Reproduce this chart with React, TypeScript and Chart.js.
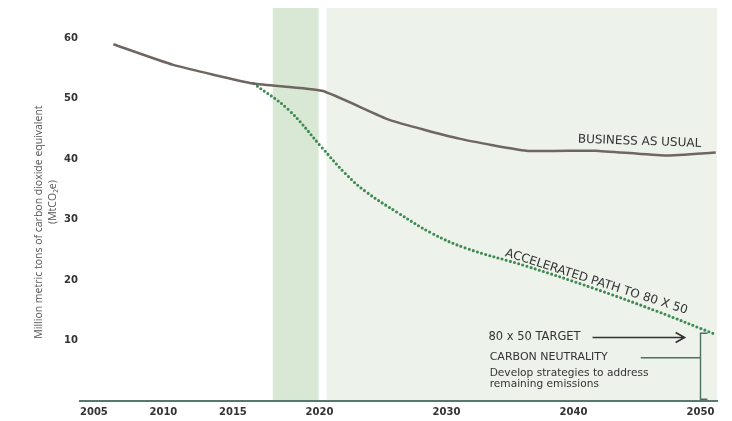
import React, { useEffect, useRef } from 'react';
import { Chart, registerables, LinearScale } from 'chart.js';

Chart.register(...registerables);

// ---- data ----
const X_TICKS = [2005, 2010, 2015, 2020, 2030, 2040, 2050];
const Y_TICKS = [10, 20, 30, 40, 50, 60];

const BAU_YEARS = [2006.4, 2010.7, 2016.2, 2020.2, 2025.5, 2031.0, 2036.3, 2041.7, 2047.2, 2051.2];
const BAU_VALUES = [59.0, 55.6, 52.5, 51.3, 46.5, 43.4, 41.4, 41.4, 40.6, 41.1];

const ACC_YEARS = [2016.2, 2018.2, 2020.2, 2022.0, 2023.6, 2026.2, 2028.8, 2031.5, 2036.3, 2041.5, 2046.5, 2051.2];
const ACC_VALUES = [52.5, 48.2, 41.9, 37.7, 34.7, 31.1, 27.8, 25.3, 22.3, 18.7, 14.9, 11.0];

const NEAR_TERM_BAND = [2017.3, 2019.95];
const LONG_TERM_BAND = [2020.55, 2051.3];

const Y_TITLE = 'Million metric tons of carbon dioxide equivalent';
const Y_TITLE_2 = '(MtCO\u2082e)';

// ---- x-axis spacing of the reference (uneven) ----
const X_KNOT_YEARS = [2004, 2015, 2020, 2051.3];
const X_KNOT_FRACS = [0, 0.24, 0.376, 1];

function interp(v: number, xs: number[], ys: number[]) {
  let i = 0;
  if (v <= xs[0]) i = 0;
  else if (v >= xs[xs.length - 1]) i = xs.length - 2;
  else {
    while (i < xs.length - 2 && v > xs[i + 1]) i++;
  }
  const t = (v - xs[i]) / (xs[i + 1] - xs[i]);
  return ys[i] + t * (ys[i + 1] - ys[i]);
}

class WarpedScale extends LinearScale {
  static id = 'warped';
  static defaults = LinearScale.defaults;
  getPixelForValue(value: any) {
    if (value === null || value === undefined || isNaN(value)) return NaN;
    return this.getPixelForDecimal(interp(value, X_KNOT_YEARS, X_KNOT_FRACS));
  }
  getValueForPixel(pixel: number) {
    return interp(this.getDecimalForPixel(pixel), X_KNOT_FRACS, X_KNOT_YEARS);
  }
}
Chart.register(WarpedScale as any);

const TICK_FONT = { family: 'DejaVu Sans', size: 10, weight: 'bold' as const };
const TEXT = '#333333';
const DARK_GREEN = '#4f6f63';

const bandsPlugin = {
  id: 'bands',
  beforeDraw(chart: any) {
    const { ctx, chartArea, scales } = chart;
    const x = scales.x;
    ctx.save();
    ctx.fillStyle = '#d8e8d5';
    const a0 = x.getPixelForValue(NEAR_TERM_BAND[0]);
    const a1 = x.getPixelForValue(NEAR_TERM_BAND[1]);
    ctx.fillRect(a0, chartArea.top, a1 - a0, chartArea.bottom - chartArea.top);
    ctx.fillStyle = '#edf2eb';
    const b0 = x.getPixelForValue(LONG_TERM_BAND[0]);
    const b1 = x.getPixelForValue(LONG_TERM_BAND[1]);
    ctx.fillRect(b0, chartArea.top, b1 - b0, chartArea.bottom - chartArea.top);
    ctx.restore();
  },
};

const annotationsPlugin = {
  id: 'annotations',
  afterDraw(chart: any) {
    const { ctx, scales } = chart;
    const px = (v: number) => scales.x.getPixelForValue(v);
    const py = (v: number) => scales.y.getPixelForValue(v);
    ctx.save();

    // y axis title
    ctx.fillStyle = '#555555';
    ctx.font = '10.5px "Open Sans"';
    ctx.textAlign = 'center';
    ctx.textBaseline = 'middle';
    ctx.save();
    ctx.translate(39, py(29.6));
    ctx.rotate(-Math.PI / 2);
    ctx.fillText(Y_TITLE, 0, 0);
    ctx.restore();
    ctx.save();
    ctx.translate(53, py(32.9));
    ctx.rotate(-Math.PI / 2);
    ctx.fillText(Y_TITLE_2, 0, 0);
    ctx.restore();

    // line labels
    ctx.fillStyle = TEXT;
    ctx.font = '12px "DejaVu Sans"';
    ctx.save();
    ctx.translate(px(2045.2), py(42.9));
    ctx.rotate((2 * Math.PI) / 180);
    ctx.fillText('BUSINESS AS USUAL', 0, 0);
    ctx.restore();

    ctx.save();
    ctx.translate(px(2041.8), py(19.7));
    ctx.rotate((17.7 * Math.PI) / 180);
    ctx.fillText('ACCELERATED PATH TO 80 X 50', 0, 0);
    ctx.restore();

    // target + neutrality notes
    ctx.textAlign = 'left';
    ctx.font = '11.5px "DejaVu Sans"';
    ctx.fillText('80 x 50 TARGET', px(2033.3), py(10.5));
    ctx.font = '11px "DejaVu Sans"';
    ctx.fillText('CARBON NEUTRALITY', px(2033.4), py(7.2));
    ctx.font = '10.6px "DejaVu Sans"';
    ctx.fillText('Develop strategies to address', px(2033.4), py(4.6));
    ctx.fillText('remaining emissions', px(2033.4), py(2.7));

    // arrow
    ctx.strokeStyle = '#333333';
    ctx.lineWidth = 1.6;
    const ay = py(10.5);
    const ax0 = px(2041.5);
    const ax1 = px(2048.75);
    ctx.beginPath();
    ctx.moveTo(ax0, ay);
    ctx.lineTo(ax1, ay);
    ctx.moveTo(ax1 - 9, ay - 5);
    ctx.lineTo(ax1, ay);
    ctx.lineTo(ax1 - 9, ay + 5);
    ctx.stroke();

    // neutrality leader + bracket
    ctx.strokeStyle = DARK_GREEN;
    ctx.lineWidth = 1.4;
    const bx = px(2050.0);
    const bx2 = px(2050.55);
    ctx.beginPath();
    ctx.moveTo(px(2045.3), py(7.15));
    ctx.lineTo(bx, py(7.15));
    ctx.moveTo(bx2, py(11.2));
    ctx.lineTo(bx, py(11.2));
    ctx.lineTo(bx, py(0.3));
    ctx.lineTo(bx2, py(0.3));
    ctx.stroke();

    ctx.restore();
  },
};

export default function App() {
  const ref = useRef<HTMLCanvasElement | null>(null);
  useEffect(() => {
    document.body.style.margin = '0';
    const canvas = ref.current;
    if (!canvas) return;
    const chart = new Chart(canvas, {
      type: 'line',
      data: {
        datasets: [
          {
            label: 'Business as usual',
            data: BAU_YEARS.map((x, i) => ({ x, y: BAU_VALUES[i] })),
            borderColor: '#6f6661',
            borderWidth: 2.5,
            pointRadius: 0,
            tension: 0.15,
            borderJoinStyle: 'round',
          },
          {
            label: 'Accelerated path to 80 x 50',
            data: ACC_YEARS.map((x, i) => ({ x, y: ACC_VALUES[i] })),
            borderColor: '#3f8a50',
            borderWidth: 3.1,
            borderDash: [0, 4.3],
            borderCapStyle: 'round',
            pointRadius: 0,
            tension: 0.4,
          },
        ],
      } as any,
      options: {
        animation: false,
        responsive: false,
        maintainAspectRatio: false,
        layout: { padding: { top: 6, right: 15, left: 0, bottom: 0 } },
        plugins: {
          legend: { display: false },
          tooltip: { enabled: false },
        },
        scales: {
          x: {
            type: 'warped' as any,
            min: X_KNOT_YEARS[0],
            max: X_KNOT_YEARS[X_KNOT_YEARS.length - 1],
            grid: { display: false, drawTicks: false },
            border: { display: true, color: '#557a6c', width: 2 },
            ticks: {
              color: TEXT,
              font: TICK_FONT,
              padding: 5,
              autoSkip: false,
              maxRotation: 0,
              callback: (v: any) => String(v),
            },
            afterBuildTicks: (s: any) => {
              s.ticks = X_TICKS.map((v) => ({ value: v }));
            },
            afterFit: (s: any) => {
              s.height = 20;
            },
          },
          y: {
            min: 0,
            max: 65,
            grid: { display: false, drawTicks: false },
            border: { display: false },
            ticks: {
              color: TEXT,
              font: TICK_FONT,
              padding: 2,
              callback: (v: any) => String(v),
            },
            afterBuildTicks: (s: any) => {
              s.ticks = Y_TICKS.map((v) => ({ value: v }));
            },
            afterFit: (s: any) => {
              s.width = 80;
            },
          },
        } as any,
      },
      plugins: [bandsPlugin, annotationsPlugin],
    });
    return () => chart.destroy();
  }, []);
  return (
    <div style={{ width: 732, height: 421 }}>
      <canvas ref={ref} width={732} height={421} style={{ display: 'block', width: 732, height: 421 }} />
    </div>
  );
}
